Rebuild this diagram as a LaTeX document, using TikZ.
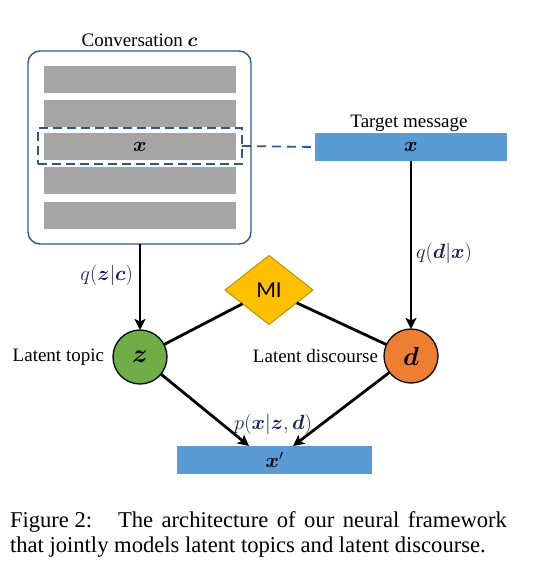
\RequirePackage{fix-cm}
\documentclass[tikz,border=0pt]{standalone}
\usepackage{fontspec}
\setmainfont{Liberation Serif}
\newfontfamily\misans{Carlito}
\usepackage{bm}
\usetikzlibrary{shapes.geometric,arrows.meta,calc}
\definecolor{barGray}{HTML}{A5A5A5}
\definecolor{barBlue}{HTML}{5B9BD5}
\definecolor{frameBlue}{HTML}{2F5597}
\definecolor{topicGreen}{HTML}{70AD47}
\definecolor{discOrange}{HTML}{ED7D31}
\definecolor{miGold}{HTML}{FFC000}
\definecolor{miEdge}{HTML}{BF9000}
\definecolor{mathNavy}{HTML}{1A2250}
\begin{document}
\begin{tikzpicture}[x=1pt,y=-1pt,
  every node/.style={inner sep=0pt,outer sep=0pt},
  txt/.style={font=\fontsize{19}{23}\selectfont},
  captxt/.style={font=\fontsize{22.6}{27}\selectfont},
  mlabel/.style={font=\fontsize{20.5}{24}\selectfont,text=mathNavy},
  graybar/.style={rectangle,fill=barGray,minimum width=192pt,minimum height=27pt},
  bluebar/.style={rectangle,fill=barBlue,minimum height=28pt,font=\fontsize{20.5}{24}\selectfont},
  convbox/.style={rectangle,draw=frameBlue,line width=1.4pt,rounded corners=12pt,minimum width=223pt,minimum height=193pt},
  dashbox/.style={rectangle,draw=frameBlue,line width=1.8pt,dash pattern=on 9pt off 5pt,minimum width=204pt,minimum height=36pt},
  latent/.style={circle,draw=black,line width=1.3pt,minimum size=54pt,font=\fontsize{26}{29}\selectfont},
  miboxstyle/.style={diamond,draw=miEdge,line width=1pt,fill=miGold,minimum width=88pt,minimum height=69pt,aspect=1.275,font=\misans\fontsize{23}{26}\selectfont},
  arr/.style={line width=2.8pt,-{Stealth[length=11pt,width=11pt,inset=2.5pt]}},
  link/.style={line width=2.8pt},
  dashlink/.style={draw=frameBlue,line width=1.8pt,dash pattern=on 9pt off 6pt}
]
\useasboundingbox (0,0) rectangle (533,565);

% Conversation
\node[convbox] (conv) at (139.5,147.5) {};
\node[txt,anchor=base] (convlabel) at (139.5,46) {Conversation $\bm{c}$};
\node[graybar] (bar1) at (140,79) {};
\node[graybar] (bar2) at (140,113) {};
\node[graybar,font=\fontsize{20.5}{24}\selectfont] (bar3) at (140,146.5) {$\bm{x}$};
\node[graybar] (bar4) at (140,180.5) {};
\node[graybar] (bar5) at (140,215) {};
\node[dashbox] (sel) at (140,146) {};

% Target message
\node[bluebar,minimum width=192pt] (target) at (411,147) {$\bm{x}$};
\node[txt,anchor=base] (targetlabel) at (409,127) {Target message};
\draw[dashlink] (sel.east) -- (target.west);

% Latent variables
\node[latent,fill=topicGreen] (z) at (140,357) {$\bm{z}$};
\node[latent,fill=discOrange] (d) at (411,356) {$\bm{d}$};
\node[txt,anchor=east] (topiclabel) at (104,357) {Latent topic};
\node[txt,anchor=east] (disclabel) at (378,356) {Latent discourse};
\node[miboxstyle] (mi) at (269,290) {MI};

% Output
\node[bluebar,minimum width=195pt] (xp) at (274.5,460) {$\bm{x}'$};

% Connectors
\draw[arr] (conv.south -| z) -- (z);
\node[mlabel,anchor=east] (qzc) at (133,275) {$q(\bm{z}|\bm{c})$};
\draw[arr] (target.south) -- (d);
\node[mlabel,anchor=west] (qdx) at (416,253) {$q(\bm{d}|\bm{x})$};
\draw[link] (mi) -- (z);
\draw[link] (mi) -- (d);
\coordinate (inz) at ($(xp.north west)+(72,0)$);
\coordinate (ind) at ($(xp.north west)+(116,0)$);
\draw[arr] (z) -- (inz);
\draw[arr] (d) -- (ind);
\node[mlabel] (pxzd) at (273,424) {$p(\bm{x}|\bm{z},\bm{d})$};

% Caption
\node[captxt,anchor=base west] (cap1a) at (10,527) {Figure 2:};
\node[captxt,anchor=base west] (cap1b) at (118,527)
  {\makebox[389pt][s]{The architecture of our neural framework}};
\node[captxt,anchor=base west] (cap2) at (10,552)
  {that jointly models latent topics and latent discourse.};
\end{tikzpicture}
\end{document}
